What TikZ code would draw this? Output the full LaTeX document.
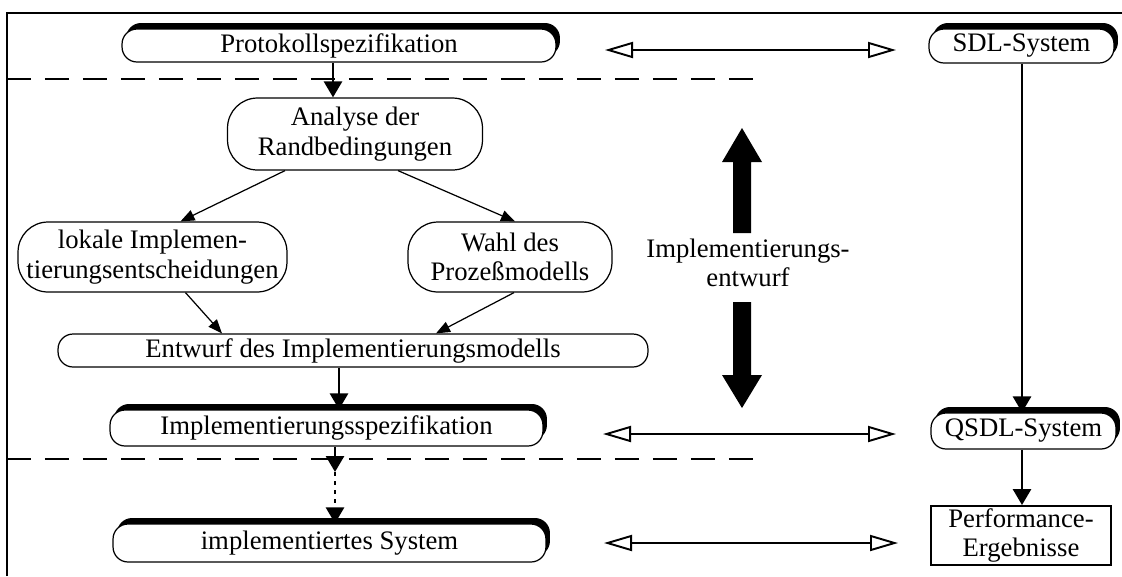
\documentclass[tikz,border=0pt]{standalone}
\usepackage{fontspec}
\setmainfont{Liberation Serif}
\usetikzlibrary{arrows.meta,calc,shadows}

\newcommand\lblfont{\fontsize{15.2}{16.8}\selectfont}

\begin{document}
\begin{tikzpicture}[x=0.02cm,y=-0.02cm,
  box/.style={draw, fill=white, line width=0.7pt, font=\lblfont, align=center, inner sep=0pt},
  pill/.style={box, rounded corners=0.3cm},
  oval/.style={box, rounded corners=0.6cm, minimum height=1.4cm},
  stage/.style={pill, general shadow={fill=black, shadow xshift=0.08cm, shadow yshift=0.12cm}},
  flow/.style={line width=1.6pt, -{Triangle[length=0.32cm,width=0.36cm]}},
  thinflow/.style={line width=0.7pt, -{Triangle[length=0.28cm,width=0.22cm]}},
  link/.style={line width=1.1pt, {Triangle[open,length=0.56cm,width=0.32cm]}-{Triangle[open,length=0.56cm,width=0.32cm]}},
  sep/.style={line width=1.1pt, dash pattern=on 0.48cm off 0.28cm},
]
\useasboundingbox (0,0) rectangle (1122,576);

% frame
\draw[line width=1.1pt] (7,576) -- (7,13) -- (1122,13);

% phase separators
\draw[sep] (7,79) -- (766,79);
\draw[sep] (7,459) -- (766,459);

% left column
\node[stage, minimum width=8.68cm, minimum height=0.66cm] (proto) at (339,45.5) {Protokollspezifikation};
\node[oval, minimum width=5.1cm, minimum height=1.44cm] (ana) at (355,134) {Analyse der\\Randbedingungen};
\node[oval, minimum width=5.38cm] (lok) at (152.5,257) {lokale Implemen-\\tierungsentscheidungen};
\node[oval, minimum width=4.08cm] (wahl) at (510,257) {Wahl des\\Prozeßmodells};
\node[pill, minimum width=11.8cm, minimum height=0.66cm] (ent) at (353,350.5) {Entwurf des Implementierungsmodells};
\node[stage, minimum width=8.66cm, minimum height=0.72cm] (spec) at (326.5,428) {Implementierungsspezifikation};
\node[stage, minimum width=8.66cm, minimum height=0.76cm] (sys) at (329.5,543) {implementiertes System};

% right column
\node[stage, minimum width=3.7cm, minimum height=0.68cm] (sdl) at (1021.5,46) {SDL-System};
\node[stage, minimum width=3.7cm, minimum height=0.72cm] (qsdl) at (1023.5,431) {QSDL-System};
\node[box, line width=1.1pt, rounded corners=0pt, minimum width=3.6cm, minimum height=1.18cm] (perf) at (1021,535.5) {Performance-\\Ergebnisse};

% middle label with its two block arrows
\node[font=\lblfont, align=center, inner sep=0pt] (impl) at (748,263) {Implementierungs-\\entwurf};
\fill (742,128) -- (762,162) -- (751,162) -- (751,233) -- (733,233) -- (733,162) -- (722,162) -- cycle;
\fill (742,408) -- (762,375) -- (751,375) -- (751,302) -- (733,302) -- (733,375) -- (722,375) -- cycle;

% vertical guides for the straight connectors
\coordinate (xa) at (333,0);
\coordinate (xb) at (339,0);
\coordinate (xc) at (335,0);
\coordinate (xr) at (1022,0);
\coordinate (mid) at (335,472);

% main flow
\draw[flow] (proto.south -| xa) -- (ana.north -| xa);
\draw[thinflow] ($(ana.south)+(-70,0)$) -- ($(lok.north)+(28,0)$);
\draw[thinflow] ($(ana.south)+(43,0)$) -- ($(wahl.north)+(5,0)$);
\draw[thinflow] ($(lok.south)+(33,0)$) -- ($(ent.north)+(-131,0)$);
\draw[thinflow] ($(wahl.south)+(4,0)$) -- ($(ent.north)+(83,0)$);
\draw[flow] (ent.south -| xb) -- (spec.north -| xb);
\draw[flow] (spec.south -| xc) -- (mid);
\draw[flow, dash pattern=on 0.08cm off 0.1cm] (mid) -- (sys.north -| xc);

\draw[flow] (sdl.south -| xr) -- (qsdl.north -| xr);
\draw[flow] (qsdl.south -| xr) -- (perf.north -| xr);

% correspondences between the two columns
\coordinate (l1) at (605,50);  \coordinate (r1) at (896,50);
\coordinate (l2) at (603,434); \coordinate (r2) at (896,434);
\coordinate (l3) at (604,543); \coordinate (r3) at (898,543);
\draw[link] (l1) -- (r1);
\draw[link] (l2) -- (r2);
\draw[link] (l3) -- (r3);
\end{tikzpicture}
\end{document}
